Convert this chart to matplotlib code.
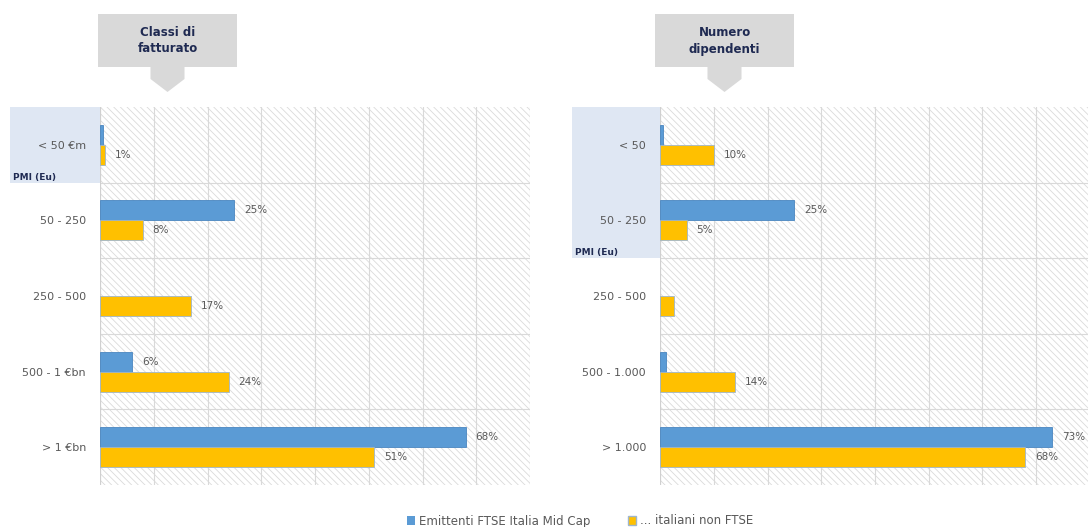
import matplotlib
matplotlib.use("Agg")
import matplotlib.pyplot as plt
from matplotlib.patches import Rectangle, Polygon, Patch

plt.rcParams['font.family'] = ['DejaVu Sans']
plt.rcParams['hatch.linewidth'] = 0.6

# Data
rev_categories = ["< 50 €m", "50 - 250", "250 - 500", "500 - 1 €bn", "> 1 €bn"]
rev_midcap = [0.5, 25, 0, 6, 68]
rev_other = [1, 8, 17, 24, 51]
rev_midcap_labels = [None, "25%", None, "6%", "68%"]
rev_other_labels = ["1%", "8%", "17%", "24%", "51%"]

emp_categories = ["< 50", "50 - 250", "250 - 500", "500 - 1.000", "> 1.000"]
emp_midcap = [0.5, 25, 0, 1.2, 73]
emp_other = [10, 5, 2.6, 14, 68]
emp_midcap_labels = [None, "25%", None, None, "73%"]
emp_other_labels = ["10%", "5%", None, "14%", "68%"]

series_names = ["Emittenti FTSE Italia Mid Cap", "... italiani non FTSE"]
panel_titles = ["Classi di\nfatturato", "Numero\ndipendenti"]

BLUE = "#5B9BD5"
YELLOW = "#FFC000"
TEXT = "#595959"
GRID = "#d9d9d9"

W, H = 1088, 527
fig = plt.figure(figsize=(W / 100, H / 100), dpi=100)


def fx(x):
    return x / W


def fy(y):
    return 1 - y / H


def pmi_box(x0, x1, y0, y1):
    fig.patches.append(Rectangle((fx(x0), fy(y1)), fx(x1 - x0), (y1 - y0) / H,
                                 transform=fig.transFigure, facecolor="#dfe7f3",
                                 edgecolor="none", zorder=-5))
    fig.text(fx(x0 + 3), fy(y1 - 6), "PMI (Eu)", fontsize=6.5, fontweight="bold",
             color="#1f2a52", ha="left", va="center")


def title_box(x0, x1, text):
    y0, y1 = 14, 67
    xc = (x0 + x1) / 2
    pts = [(x0, y0), (x1, y0), (x1, y1), (xc + 17, y1), (xc + 17, 79),
           (xc, 92), (xc - 17, 79), (xc - 17, y1), (x0, y1)]
    fig.patches.append(Polygon([(fx(a), fy(b)) for a, b in pts], closed=True,
                               transform=fig.transFigure, facecolor="#d9d9d9",
                               edgecolor="none"))
    fig.text(fx(xc), fy((y0 + y1) / 2), text, ha="center", va="center",
             fontsize=8.5, fontweight="bold", color="#1f2a52", linespacing=1.4)


def panel(left_px, cats, blue, yellow, blue_lbl, yellow_lbl):
    top, bottom = 107, 485
    ax = fig.add_axes([fx(left_px), fy(bottom), fx(430), (bottom - top) / H])
    ax.patch.set_alpha(0)
    ax.add_patch(Rectangle((0, 0), 1, 1, transform=ax.transAxes, facecolor="white",
                           edgecolor="#dadada", hatch="\\\\\\\\\\", lw=0, zorder=0))
    n = len(cats)
    ys = list(range(n))
    h = 0.265
    for y, v in zip(ys, blue):
        if v > 0:
            ax.barh(y - h / 2, v, height=h, color=BLUE, edgecolor="#4a86c0",
                    lw=0.6, zorder=3)
    for y, v in zip(ys, yellow):
        if v > 0:
            ax.barh(y + h / 2, v, height=h, color=YELLOW, edgecolor="#9fb6cc",
                    lw=0.6, zorder=3)
    for y, v, t in zip(ys, blue, blue_lbl):
        if t:
            ax.annotate(t, (v, y - h / 2), xytext=(7, 0), textcoords="offset points",
                        va="center", ha="left", fontsize=7.5, color=TEXT, zorder=4)
    for y, v, t in zip(ys, yellow, yellow_lbl):
        if t:
            ax.annotate(t, (v, y + h / 2), xytext=(7, 0), textcoords="offset points",
                        va="center", ha="left", fontsize=7.5, color=TEXT, zorder=4)
    ax.set_xlim(0, 80)
    ax.set_ylim(n - 0.5, -0.5)
    ax.set_yticks(ys)
    ax.set_yticklabels(cats, fontsize=8, color=TEXT)
    ax.tick_params(axis="y", length=0, pad=10)
    ax.set_xticks(range(0, 81, 10))
    ax.tick_params(axis="x", length=0, labelbottom=False)
    ax.grid(axis="x", color=GRID, lw=0.8, zorder=1)
    for b in [y + 0.5 for y in ys[:-1]]:
        ax.axhline(b, color=GRID, lw=0.8, zorder=1)
    for s in ax.spines.values():
        s.set_visible(False)
    ax.axvline(0, color="#d0d0d0", lw=0.8, zorder=2)
    return ax


pmi_box(10, 100, 107, 183)
pmi_box(572, 660, 107, 258)

panel(100, rev_categories, rev_midcap, rev_other, rev_midcap_labels, rev_other_labels)
panel(660, emp_categories, emp_midcap, emp_other, emp_midcap_labels, emp_other_labels)

title_box(98, 237, panel_titles[0])
title_box(655, 794, panel_titles[1])

handles = [Patch(facecolor=BLUE, edgecolor="none"), Patch(facecolor=YELLOW, edgecolor="#9fb6cc")]
fig.legend(handles, series_names, loc="center", bbox_to_anchor=(fx(580), fy(521)),
           ncol=2, frameon=False, fontsize=8.5, handlelength=0.7, handleheight=0.7,
           handletextpad=0.3, columnspacing=3.2, labelcolor=TEXT)

fig.savefig("out.png", dpi=100)
